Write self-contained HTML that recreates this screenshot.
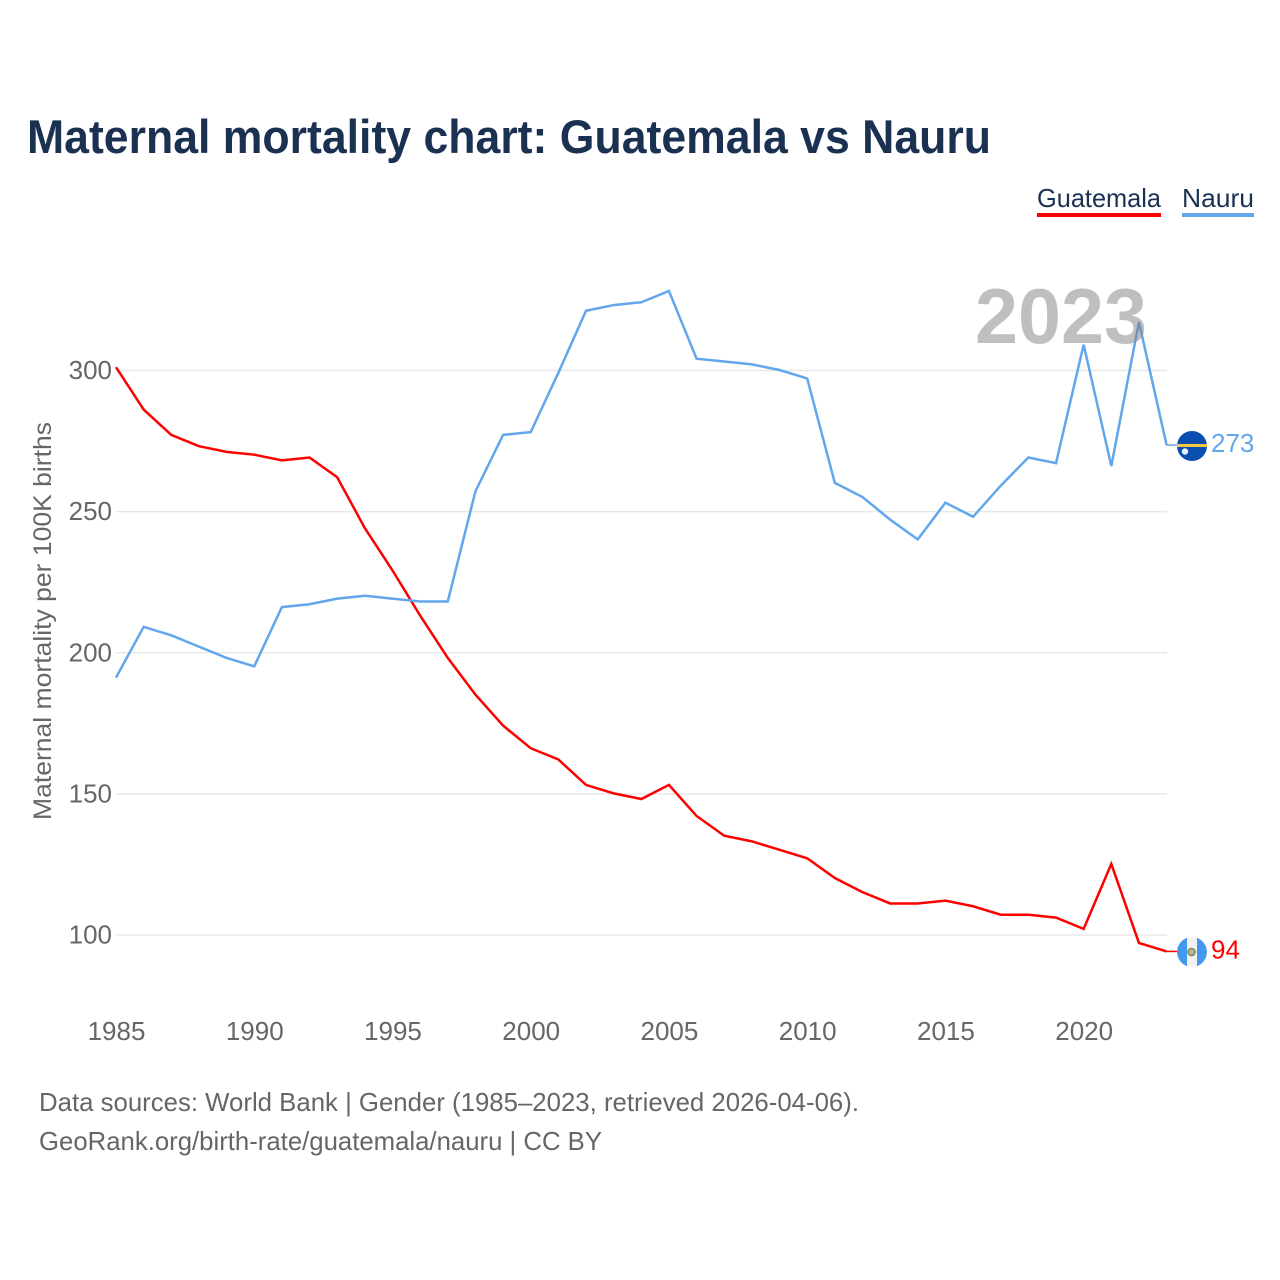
<!DOCTYPE html>
<html lang="en">
<head>
<meta charset="utf-8">
<title>Maternal mortality chart: Guatemala vs Nauru</title>
<style>
html,body{margin:0;padding:0;background:#fff;width:1280px;height:1280px;overflow:hidden}
svg{display:block;font-family:"Liberation Sans",sans-serif}
</style>
</head>
<body>
<svg id="chart" xmlns="http://www.w3.org/2000/svg" width="1280" height="1280" viewBox="0 0 1280 1280">
<text x="27" y="153" font-size="47" font-weight="700" fill="#1a3152" textLength="964" lengthAdjust="spacingAndGlyphs">Maternal mortality chart: Guatemala vs Nauru</text>
<g>
<text x="1037" y="207" font-size="26" fill="#1a3152" textLength="124" lengthAdjust="spacingAndGlyphs">Guatemala</text>
<rect x="1037" y="213" width="124" height="4" fill="#ff0000"/>
</g>
<g>
<text x="1182" y="207" font-size="26" fill="#1a3152" textLength="72" lengthAdjust="spacingAndGlyphs">Nauru</text>
<rect x="1182" y="213" width="72" height="4" fill="#62a6ec"/>
</g>
<g id="grid"></g>
<g id="yticks"></g>
<g id="xticks"></g>
<text transform="translate(51,820) rotate(-90)" font-size="25" fill="#666666" textLength="398" lengthAdjust="spacingAndGlyphs">Maternal mortality per 100K births</text>
<g id="series"></g>
<text x="975" y="343" font-size="78" font-weight="700" fill="#7f7f7f" fill-opacity="0.5" textLength="172" lengthAdjust="spacingAndGlyphs">2023</text>
<g id="ends"></g>
<text x="39" y="1111" font-size="26" fill="#666666" textLength="820" lengthAdjust="spacingAndGlyphs">Data sources: World Bank | Gender (1985–2023, retrieved 2026-04-06).</text>
<text x="39" y="1150" font-size="26" fill="#666666" textLength="563" lengthAdjust="spacingAndGlyphs">GeoRank.org/birth-rate/guatemala/nauru | CC BY</text>
</svg>
<script>
const years = [1985,1986,1987,1988,1989,1990,1991,1992,1993,1994,1995,1996,1997,1998,1999,2000,2001,2002,2003,2004,2005,2006,2007,2008,2009,2010,2011,2012,2013,2014,2015,2016,2017,2018,2019,2020,2021,2022,2023];
const guatemala = [301,286,277,273,271,270,268,269,262,244,229,213,198,185,174,166,162,153,150,148,153,142,135,133,130,127,120,115,111,111,112,110,107,107,106,102,125,97,94];
const nauru = [191,209,206,202,198,195,216,217,219,220,219,218,218,257,277,278,299,321,323,324,328,304,303,302,300,297,260,255,247,240,253,248,259,269,267,309,266,317,273.4];
const yTickValues = [100,150,200,250,300];
const xTickValues = [1985,1990,1995,2000,2005,2010,2015,2020];

const NS = 'http://www.w3.org/2000/svg';
const x = function (year) { return 116 + (year - 1985) * (1166.6 - 116) / 38; };
const y = function (value) { return 934.5 - (value - 100) * (934.5 - 370) / 200; };
function make(tag, attrs, parent) {
  const el = document.createElementNS(NS, tag);
  for (const k in attrs) el.setAttribute(k, attrs[k]);
  parent.appendChild(el);
  return el;
}
const grid = document.getElementById('grid');
const yticks = document.getElementById('yticks');
const xticks = document.getElementById('xticks');
const seriesGroup = document.getElementById('series');
const ends = document.getElementById('ends');

yTickValues.forEach(function (v) {
  const line = make('line', {x1: 116, x2: 1167, y1: y(v) + 0.5, y2: y(v) + 0.5, stroke: '#e8e8e8', 'stroke-width': 1.5}, grid);
  
  
  const t = make('text', {x: 112, y: y(v) + 9, 'text-anchor': 'end', 'font-size': 26, fill: '#666666'}, yticks);
  t.textContent = v;
  
  
});
xTickValues.forEach(function (v) {
  const t = make('text', {x: x(v) + 0.5, y: 1040, 'text-anchor': 'middle', 'font-size': 26, fill: '#666666'}, xticks);
  t.textContent = v;
  
  
});

function drawLine(values, color, name) {
  const d = values.map(function (v, i) { return (i ? 'L' : 'M') + x(years[i]).toFixed(2) + ' ' + y(v).toFixed(2); }).join(' ');
  const p = make('path', {d: d, fill: 'none', stroke: color, 'stroke-width': 2.5, 'stroke-linejoin': 'miter'}, seriesGroup);
  
  
}
drawLine(guatemala, '#ff0000', 'line-guatemala');
drawLine(nauru, '#62a6ec', 'line-nauru');

function endLabel(values, color, name) {
  const last = values[values.length - 1];
  const lastX = x(years[years.length - 1]);
  const c = make('line', {x1: lastX, y1: y(last), x2: 1178, y2: y(last), stroke: color, 'stroke-width': 1.5}, ends);
  
  
  const t = make('text', {x: 1211, y: y(last) + 7, 'font-size': 26, fill: color}, ends);
  t.textContent = Math.round(last);
  
  
}
endLabel(nauru, '#62a6ec', 'nauru');
endLabel(guatemala, '#ff0000', 'guatemala');

const flagN = make('g', {}, ends);


make('circle', {cx: 1192, cy: 446, r: 15, fill: '#0a4eb0'}, flagN);
make('rect', {x: 1177, y: 444, width: 30, height: 3, fill: '#f5c842'}, flagN);
make('circle', {cx: 1185, cy: 451.5, r: 3.2, fill: '#e8f0fa'}, flagN);

const flagG = make('g', {}, ends);


make('circle', {cx: 1192, cy: 952, r: 15, fill: '#f2f2f2'}, flagG);
make('path', {d: 'M1187 937.9 A15 15 0 0 0 1187 966.1 Z', fill: '#4297ee'}, flagG);
make('path', {d: 'M1197 937.9 A15 15 0 0 1 1197 966.1 Z', fill: '#4297ee'}, flagG);
make('circle', {cx: 1191.5, cy: 952, r: 3.4, fill: '#b9b9a0', stroke: '#7f9a68', 'stroke-width': 2}, flagG);
</script>
</body>
</html>
